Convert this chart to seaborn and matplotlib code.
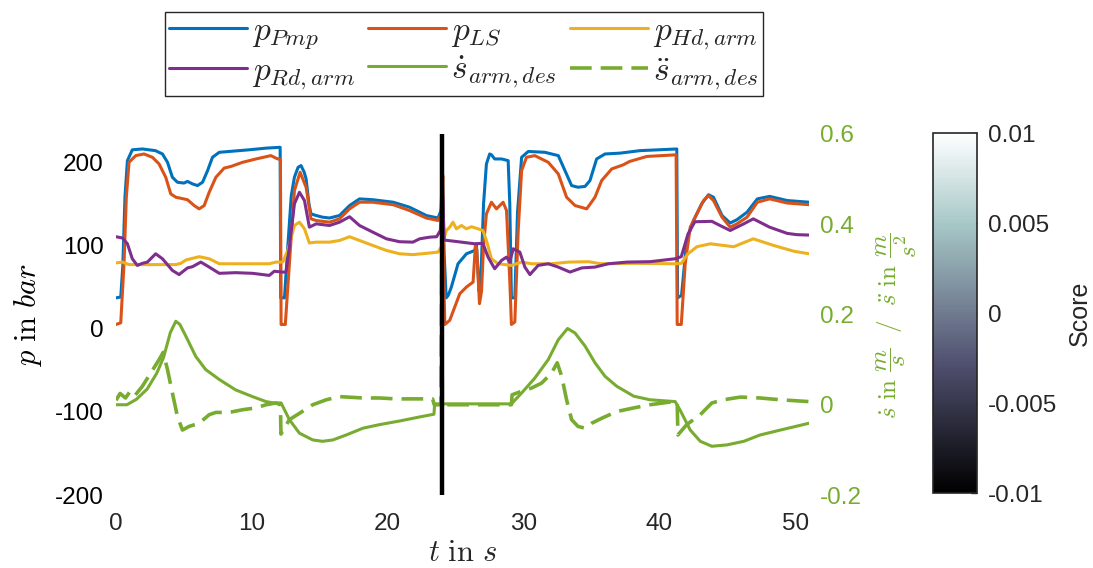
import numpy as np
import pandas as pd
import matplotlib
matplotlib.use("Agg")
import matplotlib.pyplot as plt
import seaborn as sns
from matplotlib.cm import ScalarMappable
from matplotlib.colors import Normalize

# ---- measured signals -------------------------------------------------------
# pump pressure p_Pmp [bar]
t_pmp = [0.0, 0.35, 0.5, 0.66, 0.84, 1.2, 1.94, 2.9, 3.42, 3.79, 4.15, 4.52, 5.0, 5.26, 5.63,
         6.0, 6.37, 6.74, 7.1, 7.6, 8.33, 9.8, 11.04, 12.08, 12.12, 12.4, 12.64, 12.9, 13.13,
         13.4, 13.62, 13.85, 13.99, 14.2, 14.35, 14.73, 15.2, 15.71, 16.45, 17.19, 17.92, 18.9,
         20.4, 21.6, 22.84, 23.7, 23.92, 24.02, 24.15, 24.3, 24.45, 24.68, 25.17, 25.79, 26.4,
         26.52, 26.72, 26.85, 27.05, 27.26, 27.5, 27.63, 27.87, 28.37, 28.86, 28.98, 29.1, 29.35,
         29.55, 29.85, 30.34, 31.56, 32.55, 33.04, 33.53, 34.0, 34.52, 34.88, 35.37, 35.99, 37.1,
         38.57, 41.27, 41.33, 41.62, 42.0, 42.5, 43.1, 43.6, 43.97, 44.6, 45.2, 45.7, 46.44,
         47.2, 48.1, 49.4, 51.0]
p_pmp = [37, 38, 75, 158, 202, 215, 216, 214, 210, 200, 182, 176, 175, 177, 174,
         172, 176, 190, 206, 212, 213, 215, 217, 218, 37, 37, 98, 160, 182,
         194, 196, 188, 180, 150, 138, 136, 134, 133, 136, 148, 156, 155,
         152, 146, 136, 133, 142, 190, 90, 37, 40, 50, 78, 90, 94,
         102, 45, 60, 150, 198, 210, 209, 204, 204, 202, 150, 37, 37,
         140, 206, 213, 212, 208, 190, 172, 170, 171, 178, 204, 210, 211,
         214, 216, 37, 40, 106, 130, 150, 161, 158, 136, 127, 131, 140,
         156, 159, 154, 152]

# load-sensing pressure p_LS [bar]
t_ls = [0.0, 0.35, 0.59, 0.76, 0.96, 1.45, 2.06, 2.68, 3.17, 3.66, 4.03, 4.4, 5.26, 5.75, 6.12,
        6.49, 6.86, 7.35, 7.96, 8.46, 9.32, 10.3, 11.4, 11.77, 12.1, 12.15, 12.46, 12.76, 13.13,
        13.55, 13.99, 14.35, 14.73, 15.71, 16.45, 17.19, 17.92, 18.9, 20.4, 21.6, 22.84, 23.7,
        23.94, 24.05, 24.12, 24.2, 24.56, 24.93, 25.3, 25.79, 26.28, 26.45, 26.55, 26.75, 26.9,
        27.05, 27.26, 27.63, 28.0, 28.49, 28.74, 28.98, 29.1, 29.35, 29.6, 29.85, 30.21, 30.82,
        31.81, 32.55, 33.16, 33.78, 34.64, 35.25, 35.74, 36.48, 37.34, 37.8, 39.06, 41.22, 41.3,
        41.6, 41.89, 42.26, 42.75, 43.24, 43.6, 43.97, 44.6, 45.2, 45.7, 46.44, 47.2, 48.1,
        49.4, 51.0]
p_ls = [5, 7, 78, 158, 200, 208, 210, 206, 198, 182, 162, 158, 155, 148, 144,
        148, 164, 182, 193, 195, 200, 204, 208, 205, 203, 5, 5, 78, 166,
        188, 170, 132, 130, 128, 132, 144, 152, 152, 149, 142, 133, 130,
        138, 184, 60, 5, 10, 26, 42, 50, 56, 100, 95, 30, 45,
        100, 138, 152, 144, 152, 142, 58, 5, 8, 118, 190, 206, 208,
        200, 186, 158, 148, 144, 158, 178, 192, 197, 201, 207, 209, 5,
        5, 78, 122, 138, 154, 160, 154, 134, 122, 126, 134, 152, 156,
        151, 149]

# head-side pressure p_Hd,arm [bar]
t_hd = [0.0, 0.47, 0.96, 4.4, 4.77, 5.14, 6.12, 6.86, 7.6, 11.28, 11.77, 12.27, 12.64, 13.13,
        13.5, 13.87, 14.23, 14.73, 15.71, 16.45, 17.19, 17.92, 18.9, 19.9, 20.87, 21.85, 22.84,
        23.7, 24.0, 24.31, 24.56, 24.8, 25.05, 25.42, 25.79, 26.16, 26.65, 27.0, 27.26, 27.63,
        28.12, 29.1, 29.85, 30.58, 32.05, 33.3, 34.76, 35.7, 38.1, 41.15, 41.6, 42.1, 42.75,
        43.74, 45.46, 46.9, 48.4, 49.9, 51.0]
p_hd = [79, 80, 77, 77, 78.5, 82.5, 86.5, 84, 78, 78, 80, 80, 94, 124,
        128, 120, 103, 104, 104, 106, 110.5, 106, 100, 94, 90, 89, 90.5,
        92, 100, 118, 122, 128, 120, 124, 120, 122.5, 120, 118, 106, 84,
        78, 76, 80, 78, 78, 80, 80.5, 78, 78.5, 78, 78.5, 90, 98.5,
        102, 98.5, 108, 100, 93, 90]

# rod-side pressure p_Rd,arm [bar]
t_rd = [0.0, 0.47, 0.84, 1.2, 1.57, 1.94, 2.31, 2.92, 3.42, 4.15, 4.64, 5.26, 5.63, 6.24, 6.86,
        7.6, 8.8, 10.05, 11.28, 11.65, 12.26, 12.51, 12.76, 13.13, 13.5, 13.87, 14.23, 14.73,
        15.71, 16.45, 17.19, 17.92, 18.9, 19.9, 20.87, 21.85, 22.35, 23.1, 23.6, 23.87, 24.02,
        24.15, 24.93, 26.4, 27.0, 27.38, 27.87, 28.37, 28.74, 28.98, 29.23, 29.72, 30.09, 30.46,
        31.07, 31.81, 32.55, 33.41, 34.27, 35.25, 36.23, 37.6, 39.3, 41.15, 41.6, 42.1, 42.6,
        43.85, 44.45, 45.2, 46.2, 46.9, 48.1, 49.4, 50.1, 51.0]
p_rd = [110.5, 109, 102, 84, 76, 78.5, 80, 90, 84, 70, 65, 73, 74.5, 80, 74,
        66.5, 67.3, 66.5, 64, 69, 68, 68, 98, 150, 164, 154, 122, 126,
        124, 128, 134.5, 124, 116, 108, 104.5, 104, 108, 110, 110.5, 118, 170,
        106.5, 105, 102, 102.6, 86, 72, 82, 86, 80, 96, 92, 74, 65,
        76, 78, 74, 68, 73, 74, 78, 80, 80.5, 84, 86.5, 114, 128.5,
        129, 124, 118, 126, 132, 122, 114.5, 113, 112.5]

# desired arm velocity s_dot [m/s]
t_sd = [0.0, 0.8, 1.5, 2.3, 3.0, 3.5, 4.0, 4.4, 4.7, 5.14, 5.87, 6.6, 7.6, 8.8, 10.05, 11.04,
        11.6, 12.15, 12.76, 13.5, 14.48, 15.2, 15.96, 16.94, 18.17, 19.4, 20.87, 22.35, 23.4,
        23.45, 29.1, 29.85, 30.82, 31.81, 32.55, 33.23, 33.78, 34.52, 35.25, 35.99, 36.85, 38.1,
        39.3, 41.15, 41.5, 42.26, 43.0, 43.85, 44.95, 46.2, 47.4, 48.9, 51.0]
v_sd = [0.0, 0.0, 0.012, 0.035, 0.07, 0.105, 0.16, 0.185, 0.178, 0.152, 0.107, 0.078, 0.056,
        0.033, 0.018, 0.007, 0.004, 0.004, -0.033, -0.063, -0.078, -0.081, -0.078, -0.067,
        -0.052, -0.044, -0.036, -0.027, -0.021, 0.002, 0.002, 0.026, 0.059, 0.1, 0.144, 0.169,
        0.159, 0.13, 0.093, 0.063, 0.041, 0.019, 0.011, 0.007, -0.011, -0.056, -0.081, -0.092,
        -0.089, -0.081, -0.067, -0.056, -0.041]

# desired arm acceleration s_ddot [m/s^2]
t_sdd = [0.0, 0.3, 0.7, 1.0, 1.33, 1.94, 2.55, 3.17, 3.47, 3.79, 4.15, 4.52, 4.89, 5.38, 6.12,
         6.86, 7.35, 8.33, 9.32, 10.3, 11.04, 11.77, 12.1, 12.14, 12.76, 13.5, 14.48, 15.47,
         16.45, 18.17, 19.4, 20.6, 21.85, 23.3, 23.42, 23.92, 23.97, 24.02, 29.1, 29.15, 29.85,
         30.58, 31.32, 32.05, 32.47, 32.8, 33.16, 33.53, 34.0, 34.52, 35.0, 35.74, 36.85, 38.1,
         39.3, 41.0, 41.3, 41.35, 42.0, 43.0, 43.85, 44.7, 45.95, 47.4, 48.9, 51.0]
a_sdd = [0.01, 0.025, 0.015, 0.028, 0.018, 0.041, 0.07, 0.1, 0.116, 0.078, 0.026, -0.026,
         -0.056, -0.048, -0.041, -0.022, -0.017, -0.017, -0.011, -0.007, 0.0, 0.004, 0.0,
         -0.065, -0.033, -0.019, 0.0, 0.011, 0.018, 0.015, 0.015, 0.013, 0.013, 0.013, 0.0,
         0.0, 0.32, 0.0, 0.0, 0.022, 0.03, 0.037, 0.048, 0.07, 0.093, 0.063, 0.011, -0.033,
         -0.048, -0.052, -0.041, -0.03, -0.015, -0.007, 0.0, 0.007, 0.007, -0.067, -0.044,
         -0.022, 0.004, 0.011, 0.017, 0.015, 0.011, 0.007]

t_marker = 24.0
x_ticks = [0, 10, 20, 30, 40, 50]
p_ticks = [-200, -100, 0, 100, 200]
v_ticks = [-0.2, 0.0, 0.2, 0.4, 0.6]
v_ticklabels = ["-0.2", "0", "0.2", "0.4", "0.6"]
score_ticks = [-0.01, -0.005, 0.0, 0.005, 0.01]
score_ticklabels = ["-0.01", "-0.005", "0", "0.005", "0.01"]

# ---- styling ----------------------------------------------------------------
sns.set_theme(style="white")
plt.rcParams["font.family"] = ["Liberation Sans", "DejaVu Sans"]
plt.rcParams["mathtext.fontset"] = "cm"
plt.rcParams["axes.unicode_minus"] = False

C_BLUE = "#0072BD"
C_ORANGE = "#D95319"
C_YELLOW = "#EDB120"
C_PURPLE = "#7E2F8E"
C_GREEN = "#77AC30"
C_TEXT = "#262626"
LW = 2.2
TICK_FS = 17.5

fig = plt.figure(figsize=(10.93, 5.68), dpi=100)
ax = fig.add_axes([116 / 1093, 1 - 495 / 568, 693 / 1093, 361 / 568])
ax2 = ax.twinx()

pressure = [
    (t_pmp, p_pmp, C_BLUE, r"$p_{Pmp}$"),
    (t_ls, p_ls, C_ORANGE, r"$p_{LS}$"),
    (t_hd, p_hd, C_YELLOW, r"$p_{Hd,arm}$"),
    (t_rd, p_rd, C_PURPLE, r"$p_{Rd,arm}$"),
]
for t, p, c, lab in pressure:
    df = pd.DataFrame({"t": t, "p": p})
    sns.lineplot(data=df, x="t", y="p", ax=ax, color=c, lw=LW, label=lab,
                 sort=False, estimator=None)

df_sd = pd.DataFrame({"t": t_sd, "v": v_sd})
sns.lineplot(data=df_sd, x="t", y="v", ax=ax2, color=C_GREEN, lw=LW,
             label=r"$\dot{s}_{arm,des}$", sort=False, estimator=None)
df_sdd = pd.DataFrame({"t": t_sdd, "v": a_sdd})
sns.lineplot(data=df_sdd, x="t", y="v", ax=ax2, color=C_GREEN, lw=LW + 0.4,
             linestyle=(0, (6, 2.5)), label=r"$\ddot{s}_{arm,des}$",
             sort=False, estimator=None)

ax2.axvline(t_marker, color="black", lw=3.2, zorder=5)

# axes limits and ticks
ax.set_xlim(0, 51)
ax.set_ylim(-200, 234)
ax2.set_ylim(-0.2, 0.6)
ax.set_xticks(x_ticks)
ax.set_xticklabels([str(v) for v in x_ticks])
ax.set_yticks(p_ticks)
ax.set_yticklabels([str(v) for v in p_ticks])
ax2.set_yticks(v_ticks)
ax2.set_yticklabels(v_ticklabels)

for a in (ax, ax2):
    for s in a.spines.values():
        s.set_visible(False)
    a.set_facecolor("none")
ax.tick_params(axis="x", length=0, pad=13, labelsize=TICK_FS, colors=C_TEXT)
ax.tick_params(axis="y", length=0, pad=9, labelsize=TICK_FS, colors="black")
ax2.tick_params(axis="y", length=0, pad=8, labelsize=TICK_FS, colors=C_GREEN)

ax.set_xlabel(r"$t\ \mathrm{in}\ s$", fontsize=22, color=C_TEXT, va="center")
ax.xaxis.set_label_coords(0.5, -0.16)
ax.set_ylabel(r"$p\ \mathrm{in}\ bar$", fontsize=22, color="black", va="center")
ax.yaxis.set_label_coords(-0.127, 0.5)
ax2.set_ylabel(r"$\dot{s}\ \mathrm{in}\ \dfrac{m}{s}\ \ /\ \ \ddot{s}\ \mathrm{in}\ \dfrac{m}{s^2}$",
               fontsize=18, color=C_GREEN, va="center")
ax2.yaxis.set_label_coords(1.127, 0.47)

# legend collected from both axes, row-wise order
h1, l1 = ax.get_legend_handles_labels()
h2, l2 = ax2.get_legend_handles_labels()
ax.get_legend().remove()
ax2.get_legend().remove()
hs, ls = h1 + h2, l1 + l2
order = [0, 3, 1, 4, 2, 5]
leg = fig.legend([hs[i] for i in order], [ls[i] for i in order], ncol=3,
                 loc="lower left", bbox_to_anchor=(165 / 1093, 1 - 96 / 568, 598 / 1093, 86 / 568),
                 mode="expand", borderaxespad=0, fontsize=24, frameon=True, fancybox=False,
                 handlelength=2.35, handletextpad=0.15, labelspacing=0.13, borderpad=0.12,
                 columnspacing=0.6)
leg.get_frame().set_edgecolor(C_TEXT)
leg.get_frame().set_linewidth(1.0)
leg.get_frame().set_alpha(1)

# colorbar for the score
cax = fig.add_axes([933 / 1093, 1 - 493 / 568, 44 / 1093, 360 / 568])
sm = ScalarMappable(norm=Normalize(-0.01, 0.01), cmap="bone")
cb = fig.colorbar(sm, cax=cax)
cb.set_ticks(score_ticks)
cb.set_ticklabels(score_ticklabels)
cb.outline.set_edgecolor(C_TEXT)
cb.outline.set_linewidth(1.2)
cax.tick_params(direction="in", length=4, width=1, pad=8, labelsize=TICK_FS, colors=C_TEXT)
cb.set_label("Score", fontsize=18, color=C_TEXT, va="center")
cax.yaxis.set_label_coords(3.34, 0.5)

fig.savefig("out.png", dpi=100, facecolor="white")
